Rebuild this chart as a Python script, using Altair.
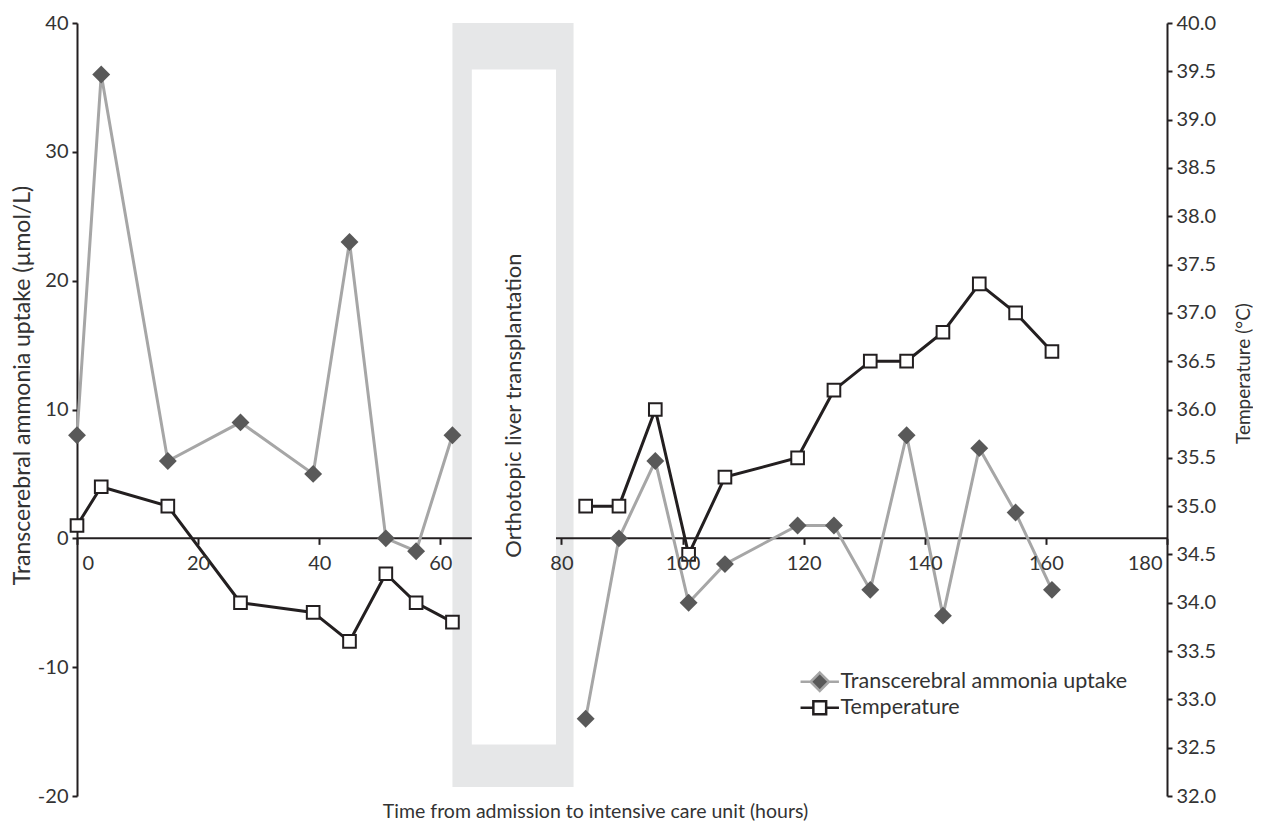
import altair as alt
import pandas as pd

# ---- data ----
time_h = [0, 4, 15, 27, 39, 45, 51, 56, 62,
          84, 89.5, 95.5, 101, 107, 119, 125, 131, 137, 143, 149, 155, 161]
ammonia = [8, 36, 6, 9, 5, 23, 0, -1, 8,
           -14, 0, 6, -5, -2, 1, 1, -4, 8, -6, 7, 2, -4]
temperature = [34.8, 35.2, 35.0, 34.0, 33.9, 33.6, 34.3, 34.0, 33.8,
               35.0, 35.0, 36.0, 34.5, 35.3, 35.5, 36.2, 36.5, 36.5, 36.8, 37.3, 37.0, 36.6]
phase = ["pre"] * 9 + ["post"] * 13

x_ticks = [0, 20, 40, 60, 80, 100, 120, 140, 160, 180]
y_left_ticks = [-20, -10, 0, 10, 20, 30, 40]
y_right_ticks = [32.0, 32.5, 33.0, 33.5, 34.0, 34.5, 35.0, 35.5, 36.0,
                 36.5, 37.0, 37.5, 38.0, 38.5, 39.0, 39.5, 40.0]

series_names = ["Transcerebral ammonia uptake", "Temperature"]
band_label = "Orthotopic liver transplantation"
band_x = [62, 82]
band_y = [40, -19.3]
box_x = [65.2, 79.1]
box_y = [36.4, -16]

W, H = 1090, 773
FONT = "Lato"
DARK = "#231f20"
TXT = "#333333"

df = pd.DataFrame({"t": time_h, "v": ammonia, "temp": temperature, "phase": phase})
band_df = pd.DataFrame({"t": [band_x[0]], "t2": [band_x[1]], "v": [band_y[0]], "v2": [band_y[1]]})
box_df = pd.DataFrame({"t": [box_x[0]], "t2": [box_x[1]], "v": [box_y[0]], "v2": [box_y[1]]})
lab_df = pd.DataFrame({"t": [(box_x[0] + box_x[1]) / 2], "v": [-1.5], "text": [band_label]})
zero_df = pd.DataFrame({"t": [x_ticks[0]], "t2": [x_ticks[-1]], "v": [0]})
leg_df = pd.DataFrame({"series": series_names, "t": [10, 10], "v": [-1000, -1000]})

x_axis = alt.Axis(values=x_ticks, title="Time from admission to intensive care unit (hours)",
                  offset=-H * 20 / 60, domain=False, zindex=1, tickSize=6,
                  labelPadding=9, labelFlush=True, labelFlushOffset=-5, labelFontSize=20,
                  titleFontSize=19.5, titleY=H * 20 / 60 + 21, titleX=518,
                  titleBaseline="alphabetic", titleAlign="center")
X = alt.X("t:Q", scale=alt.Scale(domain=[0, 180], nice=False, zero=False), axis=x_axis)

y_axis = alt.Axis(values=y_left_ticks, orient="left", labelExpr="'' + datum.value",
                  title="Transcerebral ammonia uptake (µmol/L)", tickSize=5, labelPadding=4,
                  labelFontSize=20, titleFontSize=23, titleAngle=270, titleX=-55, titleY=362,
                  titleBaseline="middle", titleAlign="center")
Y = alt.Y("v:Q", scale=alt.Scale(domain=[-20, 40], nice=False, zero=False), axis=y_axis)

band = alt.Chart(band_df).mark_rect(color="#e6e7e8").encode(x=X, x2="t2", y=Y, y2="v2")
zero = alt.Chart(zero_df).mark_rule(color=DARK, strokeWidth=2).encode(x=X, x2="t2", y=Y)
box = alt.Chart(box_df).mark_rect(color="white").encode(x=X, x2="t2", y=Y, y2="v2")
lab = alt.Chart(lab_df).mark_text(angle=270, align="left", baseline="middle",
                                   font=FONT, fontSize=22, color=TXT).encode(x=X, y=Y, text="text")

amm_line = alt.Chart(df).mark_line(color="#a6a6a6", strokeWidth=3).encode(
    x=X, y=Y, detail="phase:N")
amm_pts = alt.Chart(df).mark_point(shape="diamond", filled=True, color="#595959",
                                   size=320, opacity=1).encode(x=X, y=Y)

amm_path = "M-2.4,0H-1.15M1.15,0H2.4M0,-1.15L1.15,0L0,1.15L-1.15,0Z"
tmp_path = "M-2.4,0H-0.8M0.8,0H2.4M-0.8,-0.8H0.8V0.8H-0.8Z"
leg_props = dict(title=None, orient="none", legendX=732, legendY=648)
leg = alt.Chart(leg_df).mark_point(clip=True, strokeWidth=2.5, opacity=1).encode(
    x=X, y=Y,
    shape=alt.Shape("series:N", scale=alt.Scale(domain=series_names, range=[amm_path, tmp_path]),
                    legend=alt.Legend(symbolSize=256, symbolStrokeWidth=2.5, labelOffset=10,
                                      labelFont=FONT, labelFontSize=21.5, labelColor=TXT,
                                      labelLimit=500, rowPadding=0, symbolOpacity=1, **leg_props)),
    fill=alt.Fill("series:N", scale=alt.Scale(domain=series_names, range=["#595959", "white"]),
                  legend=alt.Legend(**leg_props)),
    stroke=alt.Stroke("series:N", scale=alt.Scale(domain=series_names, range=["#a6a6a6", DARK]),
                      legend=alt.Legend(**leg_props)),
)

left = alt.layer(band, zero, box, lab, amm_line, amm_pts, leg)

yr_axis = alt.Axis(values=y_right_ticks, orient="right", format=".1f", title="Temperature (°C)",
                   tickSize=5, labelPadding=4, labelFontSize=20, titleFontSize=19,
                   titleAngle=270, titleX=76, titleY=350, titleBaseline="middle", titleAlign="center")
YR = alt.Y("temp:Q", scale=alt.Scale(domain=[32, 40], nice=False, zero=False), axis=yr_axis)

tmp_line = alt.Chart(df).mark_line(color=DARK, strokeWidth=3).encode(x=X, y=YR, detail="phase:N")
tmp_pts = alt.Chart(df).mark_point(shape="square", filled=True, fill="white", stroke=DARK,
                                   strokeWidth=2, size=160, opacity=1).encode(x=X, y=YR)
right = alt.layer(tmp_line, tmp_pts)

chart = alt.layer(left, right).resolve_scale(y="independent").properties(
    width=W, height=H, autosize=alt.AutoSizeParams(type="none"),
    padding={"left": 69, "right": 86, "top": 15, "bottom": 28}
).configure_axis(
    domainColor=DARK, domainWidth=2, tickColor=DARK, tickWidth=2,
    labelColor=TXT, labelFont=FONT,
    titleColor=TXT, titleFont=FONT, titleFontWeight="normal", grid=False
).configure_view(stroke=None)

chart.save("out.html", embed_options={"renderer": "svg", "actions": False})
